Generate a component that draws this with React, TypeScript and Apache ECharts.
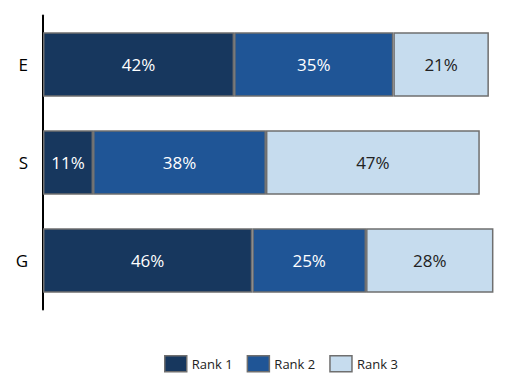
import React, { useEffect, useRef } from "react";
import * as echarts from "echarts";

const categories = ["E", "S", "G"];
const seriesNames = ["Rank 1", "Rank 2", "Rank 3"];
const rank1 = [42, 11, 46];
const rank2 = [35, 38, 25];
const rank3 = [21, 47, 28];
const colors = ["#17375e", "#1f5596", "#c6dcee"];
const labelColors = ["#ffffff", "#ffffff", "#222222"];

export default function App() {
  const ref = useRef<HTMLDivElement>(null);
  useEffect(() => {
    if (!ref.current) return;
    const chart = echarts.init(ref.current, null, { renderer: "svg" });
    const data = [rank1, rank2, rank3];
    chart.setOption({
      animation: false,
      grid: { left: 43, right: 9, top: 15.5, bottom: 73.5 },
      xAxis: { type: "value", min: 0, max: 100, show: false },
      yAxis: {
        type: "category",
        data: categories,
        inverse: true,
        axisLine: { show: true, lineStyle: { color: "#000", width: 2 } },
        axisTick: { show: false },
        axisLabel: { color: "#000", fontSize: 17, margin: 15, fontFamily: "Open Sans, sans-serif" },
      },
      legend: {
        top: 355,
        left: 164,
        padding: 0,
        icon: "rect",
        itemWidth: 22,
        itemHeight: 16,
        itemGap: 14,
        itemStyle: { borderColor: "#6f6f6f", borderWidth: 1.5 },
        textStyle: { fontSize: 13, color: "#222", fontFamily: "Open Sans, sans-serif" },
        data: seriesNames,
      },
      series: seriesNames.map((name, i) => ({
        name,
        type: "bar",
        stack: "total",
        data: data[i],
        barCategoryGap: "34%",
        itemStyle: { color: colors[i], borderColor: "#6f6f6f", borderWidth: 1.5 },
        label: {
          show: true,
          position: "inside",
          formatter: "{c}%",
          color: labelColors[i],
          fontSize: 17,
          fontFamily: "Open Sans, sans-serif",
        },
      })),
    });
    return () => chart.dispose();
  }, []);
  return <div ref={ref} style={{ width: 507, height: 383, position: "absolute", left: 0, top: 0 }} />;
}
